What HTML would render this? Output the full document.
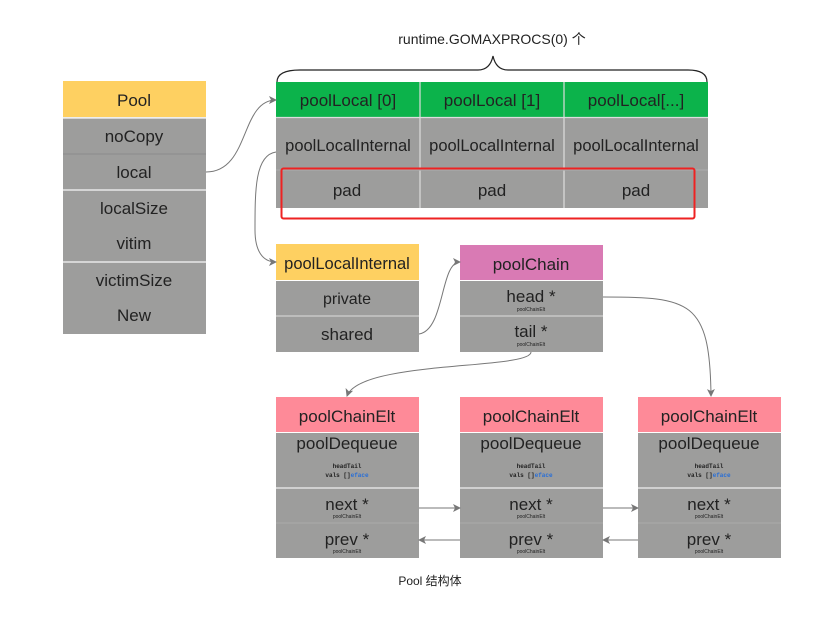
<!DOCTYPE html>
<html><head><meta charset="utf-8"><style>
html,body{margin:0;padding:0;background:#fff;}
svg text{font-family:"Liberation Sans","Noto Sans CJK SC",sans-serif;fill:#222;text-anchor:middle;}
svg text.m{font-family:"Liberation Mono",monospace;font-weight:bold;}
</style></head><body>
<svg width="830" height="614" viewBox="0 0 830 614" xmlns="http://www.w3.org/2000/svg">
<defs><marker id="a" markerWidth="8" markerHeight="8" refX="7" refY="4" orient="auto" markerUnits="userSpaceOnUse"><path d="M0,0 L8,4 L0,8 L2,4 z" fill="#777"/></marker></defs>
<text x="492" y="44" font-size="14" fill="#333">runtime.GOMAXPROCS(0) 个</text>
<path d="M277,82 Q277,70 300,70 L478,70 Q490,70 493,56 Q496,70 508,70 L688,70 Q707,70 707,82" fill="none" stroke="#222" stroke-width="1.2"/>
<rect x="63" y="81" width="143" height="36" fill="#fed061"/>
<text x="134" y="106" font-size="17">Pool</text>
<rect x="63" y="118" width="143" height="216" fill="#9d9d9c"/>
<g stroke="#e8e8e8" stroke-width="1.5"><line x1="63" y1="118" x2="206" y2="118"/><line x1="63" y1="190" x2="206" y2="190"/><line x1="63" y1="262" x2="206" y2="262"/></g>
<line x1="63" y1="154" x2="206" y2="154" stroke="#8c8c8c"/>
<g font-size="17" fill="#333"><text x="134" y="142">noCopy</text><text x="134" y="178">local</text><text x="134" y="214">localSize</text><text x="134" y="249">vitim</text><text x="134" y="286">victimSize</text><text x="134" y="321">New</text></g>
<rect x="276" y="82" width="432" height="35" fill="#0cb34b"/>
<rect x="276" y="118" width="432" height="90" fill="#9d9d9c"/>
<g stroke="#ddd" stroke-width="1.2"><line x1="420" y1="82" x2="420" y2="208"/><line x1="564" y1="82" x2="564" y2="208"/><line x1="276" y1="117.5" x2="708" y2="117.5"/><line x1="276" y1="170" x2="708" y2="170" stroke="#aaa"/></g>
<g font-size="17"><text x="348" y="106">poolLocal [0]</text><text x="492" y="106">poolLocal [1]</text><text x="636" y="106">poolLocal[...]</text></g>
<g font-size="16.5" fill="#111"><text x="348" y="151">poolLocalInternal</text><text x="492" y="151">poolLocalInternal</text><text x="636" y="151">poolLocalInternal</text></g>
<g font-size="17" fill="#333"><text x="347" y="196">pad</text><text x="492" y="196">pad</text><text x="636" y="196">pad</text></g>
<rect x="281.5" y="168.5" width="413" height="50" fill="none" stroke="#ee2222" stroke-width="2" rx="2"/>
<rect x="276" y="244" width="143" height="36" fill="#fed061"/>
<text x="347" y="269" font-size="16.5">poolLocalInternal</text>
<rect x="276" y="281" width="143" height="71" fill="#9d9d9c"/>
<line x1="276" y1="316" x2="419" y2="316" stroke="#ddd"/>
<text x="347" y="304" font-size="16">private</text><text x="347" y="340" font-size="17" fill="#333">shared</text>
<rect x="460" y="245" width="143" height="35" fill="#d97ab4"/>
<text x="531" y="270" font-size="17" fill="#333">poolChain</text>
<rect x="460" y="281" width="143" height="71" fill="#9d9d9c"/>
<line x1="460" y1="316" x2="603" y2="316" stroke="#ddd"/>
<text x="531" y="302" font-size="17" fill="#111">head *</text><text x="531" y="311" font-size="5">poolChainElt</text>
<text x="531" y="337" font-size="17" fill="#111">tail *</text><text x="531" y="346" font-size="5">poolChainElt</text>
<g id="e">
<rect x="276" y="397" width="143" height="35" fill="#fe8a98"/>
<text x="347" y="422" font-size="17" fill="#333">poolChainElt</text>
<rect x="276" y="433" width="143" height="125" fill="#9d9d9c"/>
<line x1="276" y1="488" x2="419" y2="488" stroke="#eee" stroke-width="1.2"/>
<line x1="276" y1="523" x2="419" y2="523" stroke="#aaa"/>
<text x="347" y="449" font-size="17" fill="#111">poolDequeue</text>
<text class="m" x="347" y="468" font-size="6">headTail</text>
<text class="m" x="347" y="477" font-size="6">vals []<tspan fill="#2a6fd6">eface</tspan></text>
<text x="347" y="510" font-size="17" fill="#111">next *</text><text x="347" y="518" font-size="5">poolChainElt</text>
<text x="347" y="545" font-size="17" fill="#111">prev *</text><text x="347" y="553" font-size="5">poolChainElt</text>
</g>
<use href="#e" x="184"/>
<use href="#e" x="362"/>
<g fill="none" stroke="#777" stroke-width="1" marker-end="url(#a)">
<path d="M206,172 C250,172 240,100 276,100"/>
<path d="M276,152 C255,155 255,190 255,230 C255,250 262,262 276,262"/>
<path d="M419,334 C445,330 440,262 460,262"/>
<path d="M603,297 C690,297 710,300 711,396"/>
<path d="M531,352 C531,370 360,360 347,396"/>
<path d="M419,508 L460,508"/>
<path d="M603,508 L638,508"/>
<path d="M460,540 L419,540"/>
<path d="M638,540 L603,540"/>
</g>
<text x="430" y="585" font-size="12" fill="#333">Pool 结构体</text>
</svg>
</body></html>
